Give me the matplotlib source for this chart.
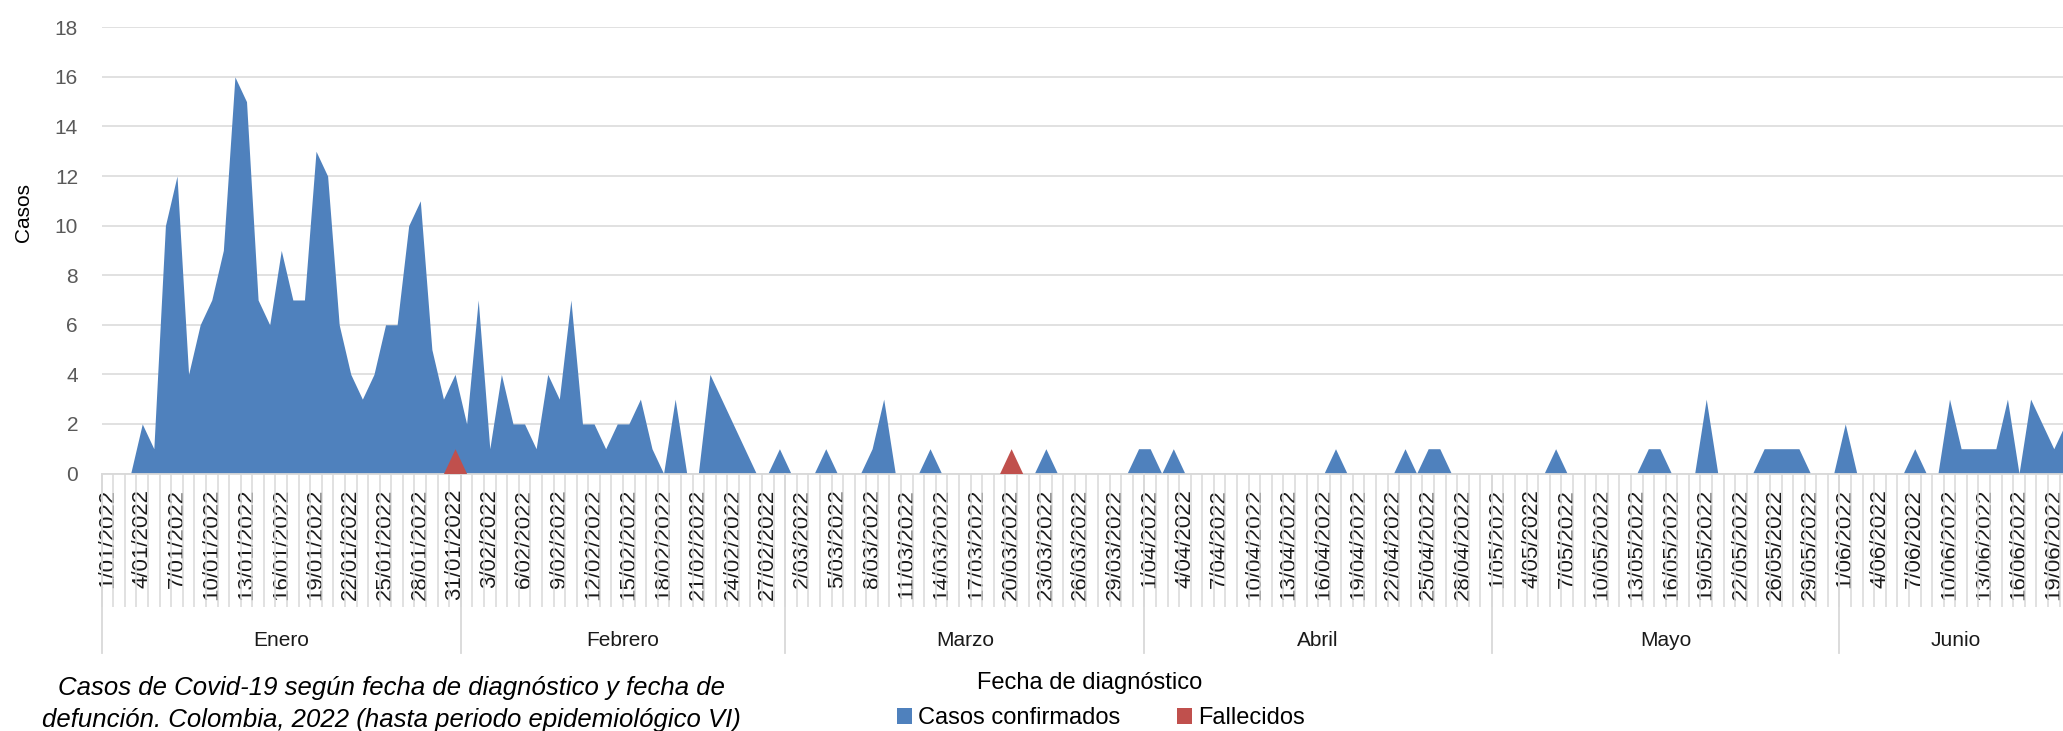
import matplotlib
matplotlib.use("Agg")
import matplotlib.pyplot as plt
from matplotlib.patches import Patch
import numpy as np
import pandas as pd

plt.rcParams['font.family'] = ['Liberation Sans', 'DejaVu Sans']

# ---- categories (one date absent in the source: 24/05/2022) ----
dates = [d for d in pd.date_range("2022-01-01", "2022-06-20", freq="D") if d != pd.Timestamp("2022-05-24")]
date_labels = [f"{d.day}/{d.month:02d}/2022" for d in dates]

months = ["Enero", "Febrero", "Marzo", "Abril", "Mayo", "Junio"]

casos = [0, 0, 0, 2, 1, 10, 12, 4, 6, 7,
         9, 16, 15, 7, 6, 9, 7, 7, 13, 12,
         6, 4, 3, 4, 6, 6, 10, 11, 5, 3,
         4, 2, 7, 1, 4, 2, 2, 1, 4, 3,
         7, 2, 2, 1, 2, 2, 3, 1, 0, 3,
         0, 0, 4, 3, 2, 1, 0, 0, 1, 0,
         0, 0, 1, 0, 0, 0, 1, 3, 0, 0,
         0, 1, 0, 0, 0, 0, 0, 0, 0, 0,
         0, 1, 0, 0, 0, 0, 0, 0, 0, 1,
         1, 0, 1, 0, 0, 0, 0, 0, 0, 0,
         0, 0, 0, 0, 0, 0, 1, 0, 0, 0,
         0, 0, 1, 0, 1, 1, 0, 0, 0, 0,
         0, 0, 0, 0, 0, 1, 0, 0, 0, 0,
         0, 0, 0, 1, 1, 0, 0, 0, 3, 0,
         0, 0, 0, 1, 1, 1, 1, 0, 0, 0,
         2, 0, 0, 0, 0, 0, 1, 0, 0, 3,
         1, 1, 1, 1, 3, 0, 3, 2, 1, 2]

fallecidos_dates = ["31/01/2022", "20/03/2022"]
fallecidos_vals = [1, 1]

N = len(date_labels)
x = np.arange(N)
fallecidos = np.zeros(N)
for d, v in zip(fallecidos_dates, fallecidos_vals):
    fallecidos[date_labels.index(d)] = v

BLUE = '#4f81bd'
RED = '#c0504d'
GRID = '#d9d9d9'

W, H = 2063, 731
fig = plt.figure(figsize=(W / 100, H / 100), dpi=100)
left_px, zero_px, top_px, step_px = 101.7, 473.5, 27.3, 11.585
ax = fig.add_axes([left_px / W, (H - zero_px) / H, N * step_px / W, (zero_px - top_px) / H])

ax.fill_between(x, casos, 0, color=BLUE, lw=0, zorder=2)
ax.fill_between(x, fallecidos, 0, color=RED, lw=0, zorder=3)

ax.set_xlim(-0.5, N - 0.5)
ax.set_ylim(0, 18)
ax.set_yticks(np.arange(0, 19, 2))
ax.yaxis.grid(True, color=GRID, lw=1.1)
ax.set_axisbelow(True)
for s in ['left', 'right', 'top']:
    ax.spines[s].set_visible(False)
ax.spines['bottom'].set_color(GRID)
ax.spines['bottom'].set_linewidth(1.3)
ax.tick_params(axis='y', length=0, pad=17, labelsize=15, labelcolor='#595959')

# major ticks: labels every 3 categories
ax.set_xticks(x[::3])
ax.set_xticklabels([date_labels[i] for i in x[::3]], rotation=90, fontsize=16, color='#1a1a1a')
ax.tick_params(axis='x', which='major', length=0, pad=11)
# minor ticks: category boundaries
ax.set_xticks(np.arange(-0.5, N, 1), minor=True)
ax.tick_params(axis='x', which='minor', length=96, width=1.1, color=GRID, direction='out')

# month groups
axh = zero_px - top_px
month_idx = [d.month for d in dates]
bounds = [-0.5]
for i in range(1, N):
    if month_idx[i] != month_idx[i - 1]:
        bounds.append(i - 0.5)
bounds.append(N - 0.5)
trans = ax.get_xaxis_transform()
for b in bounds:
    ax.plot([b, b], [0, -(653 - zero_px) / axh], transform=trans, color=GRID, lw=1.3, clip_on=False)
for k, m in enumerate(months):
    ax.text((bounds[k] + bounds[k + 1]) / 2, -(640 - zero_px) / axh, m, transform=trans,
            ha='center', va='center', fontsize=15, color='#1a1a1a')

fig.text(24 / W, 1 - 212 / H, "Casos", rotation=90, ha='center', va='center', fontsize=15)
fig.text(1090 / W, 1 - 683 / H, "Fecha de diagnóstico", ha='center', va='center', fontsize=17)

fig.text(391 / W, 1 - 688 / H, "Casos de Covid-19 según fecha de diagnóstico y fecha de",
         ha='center', va='center', fontsize=18.5, style='italic')
fig.text(391 / W, 1 - 720 / H, "defunción. Colombia, 2022 (hasta periodo epidemiológico VI)",
         ha='center', va='center', fontsize=18.5, style='italic')

handles = [Patch(facecolor=BLUE, edgecolor='none', label='Casos confirmados'),
           Patch(facecolor=RED, edgecolor='none', label='Fallecidos')]
fig.legend(handles=handles, loc='center', bbox_to_anchor=(1101 / W, 1 - 718 / H), ncol=2,
           frameon=False, fontsize=17, handlelength=0.65, handleheight=0.65,
           handletextpad=0.25, columnspacing=2.4, borderpad=0, borderaxespad=0)

fig.savefig("out.png", dpi=100)
